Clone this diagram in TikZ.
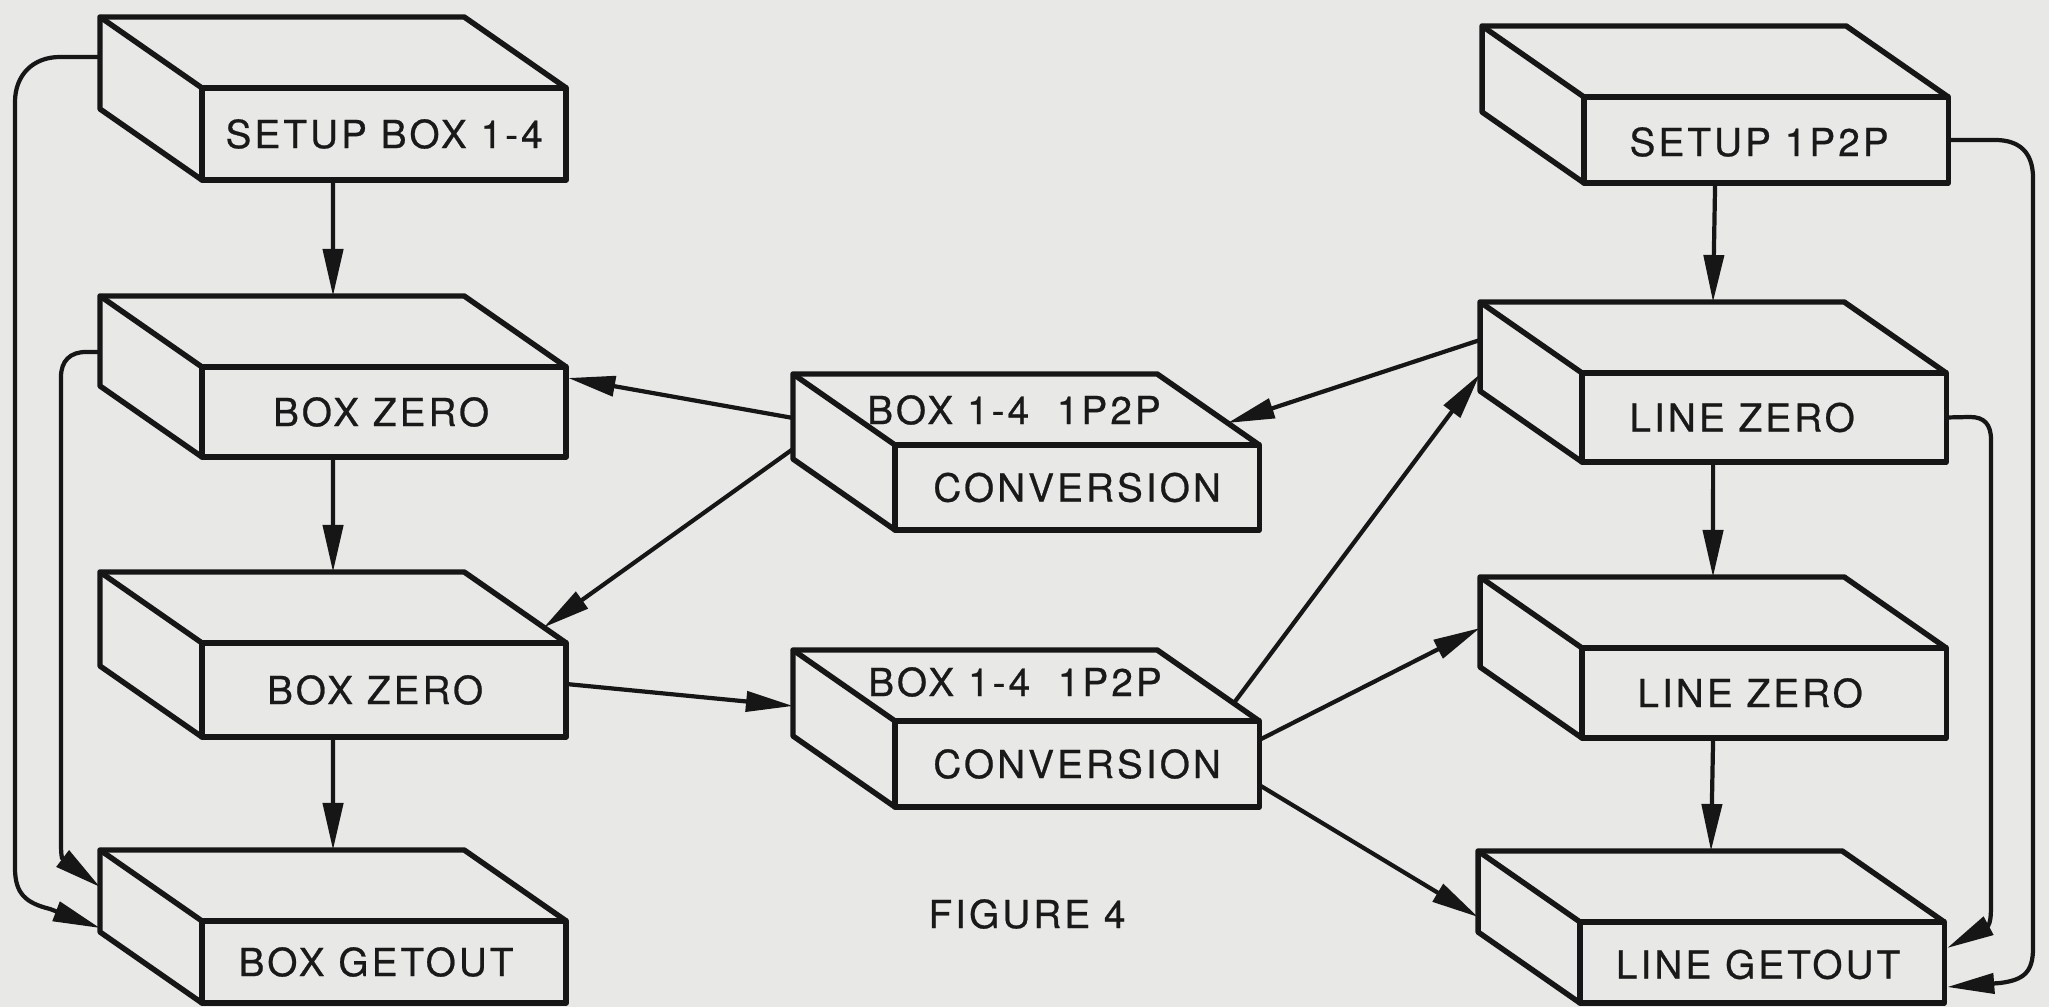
\documentclass[tikz,border=0pt]{standalone}
\usepackage{fontspec}
\newfontfamily\lblfont{TeX Gyre Heros}[LetterSpace=8, FakeBold=0.6]
\usetikzlibrary{calc,arrows.meta}
\definecolor{bgc}{RGB}{232,232,230}
\definecolor{inkc}{RGB}{22,22,22}
\definecolor{txtc}{RGB}{25,25,25}
\def\dX{102}\def\dY{71}\def\W{364}
\tikzset{
  boxline/.style={draw=inkc, line width=1.55pt, line join=round},
  frontface/.style={boxline, rectangle, inner sep=0pt, outer sep=0pt, minimum width=3.64cm},
  arr/.style={draw=inkc, line width=1.2pt, -{Triangle[length=0.47cm, width=0.2cm]}},
  lbl/.style={font=\lblfont\fontsize{11}{13}\selectfont, text=txtc, inner sep=0pt}
}
\newcommand\slab[4]{%
  \node[frontface, minimum height=#4*0.01cm, anchor=north west] (#1) at (#2,#3) {};
  \coordinate (#1-bl) at ($(#1.north west)+(-\dX,-\dY)$);
  \coordinate (#1-br) at ($(#1.north east)+(-\dX,-\dY)$);
  \coordinate (#1-top) at ($(#1-bl)+({(\W+\dX)/2},0)$);
  \coordinate (#1-bot) at ($(#1.south)+({-\dX/2},0)$);
  \draw[boxline] (#1.south west) -- ++(-\dX,-\dY) -- (#1-bl) -- (#1-br) -- (#1.north east);
  \draw[boxline] (#1.north west) -- (#1-bl);
}
\begin{document}
\begin{tikzpicture}[x=0.01cm, y=-0.01cm]
\useasboundingbox (0,0) rectangle (2049,1007);
\fill[bgc] (0,0) rectangle (2049,1007);
% left column
\slab{A}{202}{88}{92}
\slab{B}{202}{367}{90}
\slab{C}{202}{643}{94}
\slab{D}{202}{921}{82}
% middle
\slab{E}{895}{445}{85}
\slab{F}{895}{721}{86}
% right column
\slab{G}{1584}{97}{86}
\slab{H}{1582}{373}{89}
\slab{I}{1582}{648}{90}
\slab{J}{1580}{922}{81}
% labels
\node[lbl] (tA) at (A.center) {SETUP BOX 1-4};
\node[lbl] (tB) at ($(B.center)+(-3,0)$) {BOX ZERO};
\node[lbl] (tC) at ($(C.center)+(-9,0)$) {BOX ZERO};
\node[lbl] (tD) at ($(D.center)+(-8,0)$) {BOX GETOUT};
\node[lbl] (tE1) at (1014,410) {BOX 1-4\ \ 1P2P};
\node[lbl] (tE2) at (E.center) {CONVERSION};
\node[lbl] (tF1) at (1015,682) {BOX 1-4\ \ 1P2P};
\node[lbl] (tF2) at (F.center) {CONVERSION};
\node[lbl] (tG) at ($(G.center)+(-7,2)$) {SETUP 1P2P};
\node[lbl] (tH) at ($(H.center)+(-22,0)$) {LINE ZERO};
\node[lbl] (tI) at ($(I.center)+(-14,0)$) {LINE ZERO};
\node[lbl] (tJ) at ($(J.center)+(-4,2)$) {LINE GETOUT};
\node[lbl] (fig) at (1027,914) {FIGURE 4};
% vertical flow
\draw[arr] (A-bot) -- (B-top);
\draw[arr] (B-bot) -- (C-top);
\draw[arr] (C-bot) -- (D-top);
\draw[arr] (G-bot) -- (H-top);
\draw[arr] (H-bot) -- (I-top);
\draw[arr] (I-bot) -- (J-top);
% middle connectors
\draw[arr] ($(E-bl)+(0,44)$) -- ($(B.north east)+(2,11)$);
\draw[arr] ($(E-bl)+(0,75)$) -- ($(C-br)!0.78!(C.north east)$);
\draw[arr] ($(C.north east)+(0,41)$) -- ($(F-bl)+(0,56)$);
\draw[arr] ($(H-bl)+(0,38)$) -- ($(E-br)!0.69!(E.north east)$);
\draw[arr] ($(F-br)!0.75!(F.north east)$) -- ($(H-bl)+(0,72)$);
\draw[arr] ($(F.north east)+(0,19)$) -- ($(I-bl)+(0,51)$);
\draw[arr] ($(F.north east)+(0,64)$) -- ($(J-bl)+(0,66)$);
% left loops
\draw[arr] ($(A-bl)+(0,40)$) -- (60,57) .. controls (33,57) and (15,75) .. (15,102)
  -- (15,868) .. controls (15,894) and (26,903) .. (50,909) -- ($(D-bl)+(0,78)$);
\draw[arr] ($(B-bl)+(0,56)$) -- (86,352) .. controls (70,352) and (61,361) .. (61,377)
  -- (61,836) .. controls (61,848) and (61,854) .. (62,858) -- ($(D-bl)+(0,37)$);
% right loops
\draw[arr] (G.east) -- (1995,140) .. controls (2020,140) and (2033,153) .. (2033,178)
  -- (2033,948) .. controls (2033,972) and (2024,980) .. (2000,983) -- ($(J.north east)+(3,65)$);
\draw[arr] (H.east) -- (1970,417) .. controls (1984,417) and (1991,424) .. (1991,440)
  -- (1991,905) .. controls (1991,918) and (1990,923) .. (1988,926) -- ($(J.north east)+(3,26)$);
\end{tikzpicture}
\end{document}
